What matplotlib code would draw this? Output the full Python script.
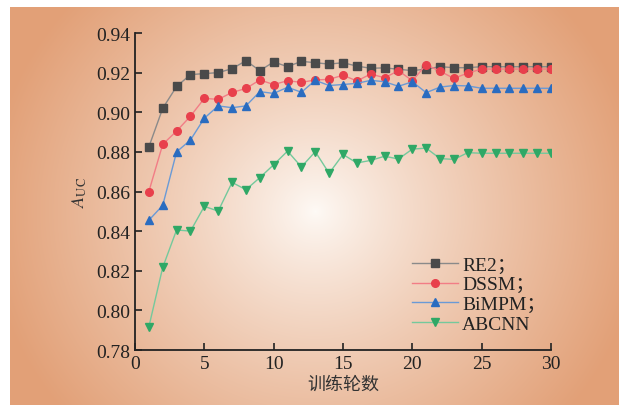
import numpy as np
import matplotlib.pyplot as plt
from matplotlib.colors import to_rgb

plt.rcParams["mathtext.fontset"] = "stix"

# ── Data ─────────────────────────────────────────────────────────────────────
epochs = list(range(1, 31))
re2 = [0.8825, 0.902, 0.913, 0.919, 0.9195, 0.920, 0.922, 0.926, 0.921, 0.9254,
       0.923, 0.9257, 0.925, 0.9243, 0.925, 0.9233, 0.9222, 0.9224, 0.9217, 0.921,
       0.9218, 0.923, 0.9225, 0.9225, 0.923, 0.923, 0.923, 0.923, 0.923, 0.923]
dssm = [0.860, 0.8838, 0.8905, 0.898, 0.907, 0.9065, 0.910, 0.912, 0.9163, 0.914,
        0.9159, 0.9151, 0.9163, 0.9166, 0.9187, 0.9158, 0.9193, 0.9174, 0.921, 0.9159,
        0.924, 0.9207, 0.9171, 0.9198, 0.9218, 0.9218, 0.9218, 0.9218, 0.9218, 0.9218]
bimpm = [0.8455, 0.853, 0.880, 0.886, 0.897, 0.9032, 0.9023, 0.9032, 0.9104, 0.9095,
         0.9126, 0.9101, 0.9161, 0.9135, 0.9140, 0.9146, 0.9161, 0.9154, 0.9131, 0.9154,
         0.9099, 0.9127, 0.9135, 0.9133, 0.9121, 0.9121, 0.9121, 0.9121, 0.9121, 0.9121]
abcnn = [0.7917, 0.8217, 0.8406, 0.840, 0.8525, 0.8501, 0.8646, 0.8609, 0.867, 0.8735,
         0.8804, 0.8724, 0.8801, 0.8692, 0.8787, 0.8744, 0.8757, 0.8778, 0.8764, 0.8814,
         0.8819, 0.8766, 0.8762, 0.8796, 0.8793, 0.8793, 0.8793, 0.8793, 0.8793, 0.8793]

series = [
    ("RE2；", re2, "s", "#4a4a4a", "#8a8a8a"),
    ("DSSM；", dssm, "o", "#e8404c", "#f27d86"),
    ("BiMPM；", bimpm, "^", "#2a6cc0", "#6a9ad6"),
    ("ABCNN", abcnn, "v", "#2fa866", "#74c99c"),
]

W, H = 619, 406
fig = plt.figure(figsize=(W / 100, H / 100), dpi=100)
fig.patch.set_facecolor("white")

# ── radial background ────────────────────────────────────────────────────────
bg = fig.add_axes([0, 0, 1, 1], zorder=0)
yy, xx = np.mgrid[0:H, 0:W]
r = np.sqrt((xx - 315) ** 2 + ((yy - 212) / 0.95) ** 2)
t = np.clip(r / 330, 0, 1) ** 0.85
c_in = np.array(to_rgb("#fefaf6"))
c_out = np.array(to_rgb("#e2a077"))
img = c_in[None, None, :] * (1 - t[..., None]) + c_out[None, None, :] * t[..., None]
img[:8, :, :] = 1.0
img[:, :10, :] = 1.0
bg.imshow(img, extent=[0, W, H, 0], aspect="auto", interpolation="bilinear")
bg.axis("off")

# ── main plot ────────────────────────────────────────────────────────────────
ax = fig.add_axes([135 / W, 1 - 351 / H, (551 - 135) / W, (351 - 34) / H], zorder=1)
ax.patch.set_alpha(0)

for label, vals, mk, mcol, lcol in series:
    ax.plot(epochs, vals, color=lcol, lw=1.0, marker=mk, markersize=5.5,
            markerfacecolor=mcol, markeredgecolor=mcol, label=label)

yticks = np.arange(0.78, 0.9401, 0.02)
ax.set_xlim(0, 30)
ax.set_ylim(0.78, 0.94)
ax.set_xticks([0, 5, 10, 15, 20, 25, 30])
ax.set_yticks(yticks)
ax.set_yticklabels([f"{v:.2f}" for v in yticks])
ax.tick_params(direction="in", length=5, width=1.2, labelsize=14, colors="#222222",
               labelfontfamily="Liberation Serif")
for s in ["top", "right"]:
    ax.spines[s].set_visible(False)
for s in ["left", "bottom"]:
    ax.spines[s].set_linewidth(1.3)
    ax.spines[s].set_color("#222222")

ax.set_xlabel("训练轮数", fontsize=13, family=["Noto Sans CJK SC", "DejaVu Sans"],
              color="#333333", labelpad=2)
ax.set_ylabel(r"$\mathit{A}_{\mathrm{UC}}$", fontsize=13, color="#333333", labelpad=5)

leg = ax.legend(loc="lower right", bbox_to_anchor=(1.03, 0.0), frameon=False,
                prop={"family": ["Liberation Serif", "Noto Sans CJK SC"], "size": 14},
                handlelength=2.4, handletextpad=0.2, labelspacing=0.1)
for txt in leg.get_texts():
    txt.set_color("#222222")

fig.savefig("out.png", dpi=100, facecolor=fig.get_facecolor())
